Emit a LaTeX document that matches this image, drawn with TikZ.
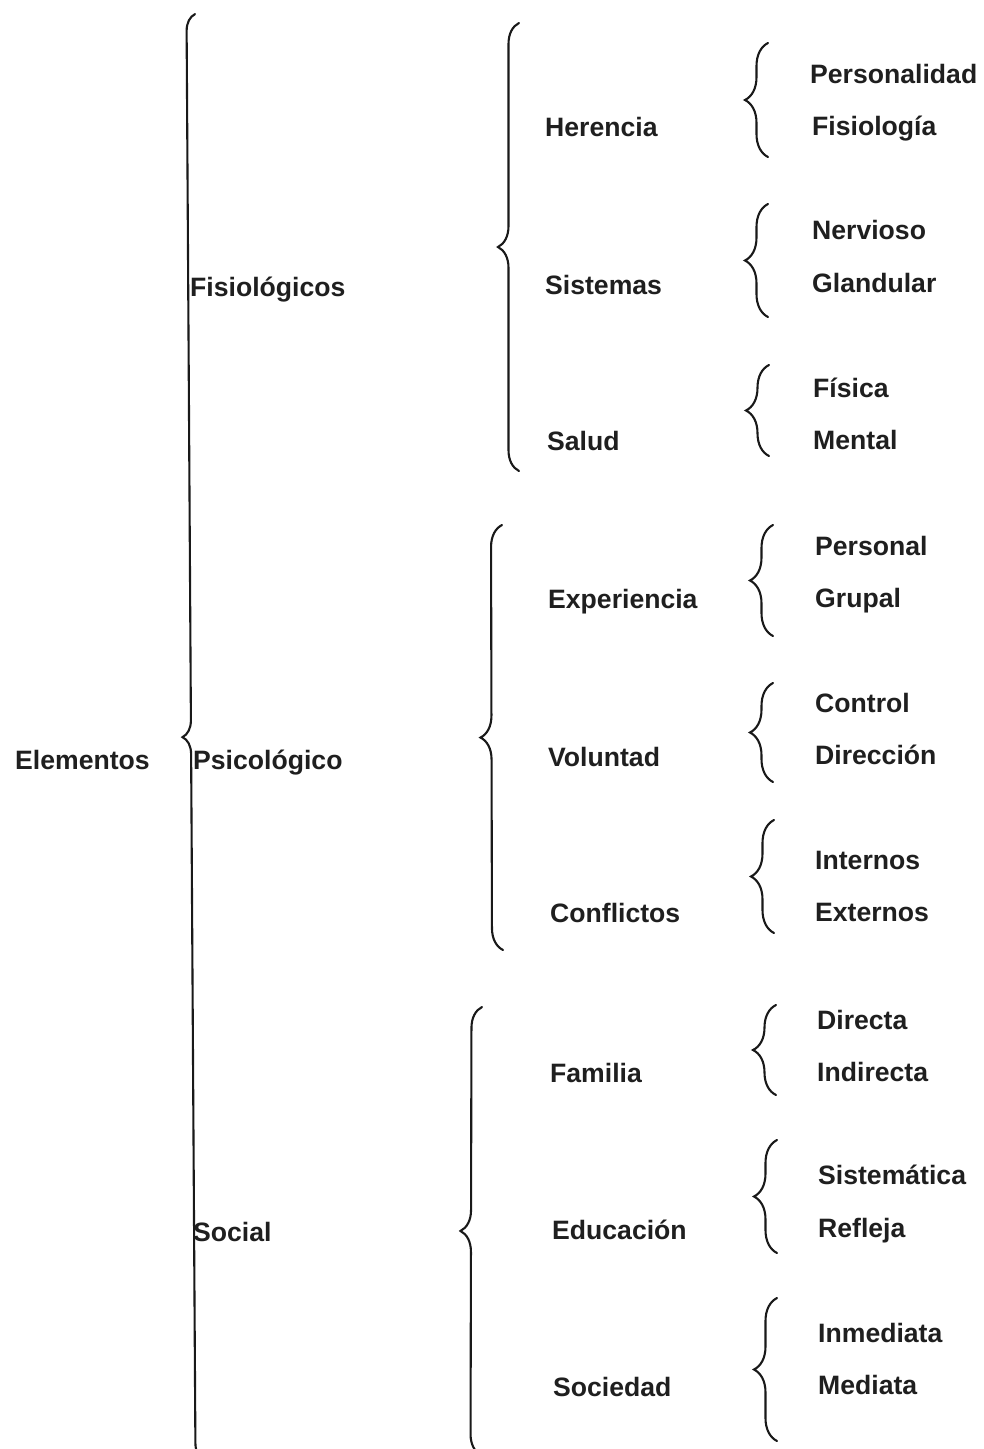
\documentclass[tikz,border=0pt]{standalone}
\usepackage{fontspec}
\setmainfont{Liberation Sans}
\usetikzlibrary{decorations.pathreplacing}
\tikzset{
  lbl/.style={anchor=base west, inner sep=0pt, font=\bfseries\fontsize{26.6}{30}\selectfont, text=black!88},
  brc/.style={draw=black!90, line width=2.1pt, line cap=round, decorate, decoration={brace, amplitude=#1}},
  brc/.default=22pt
}
\begin{document}
\begin{tikzpicture}[x=1pt, y=-1pt]
\useasboundingbox[fill=white] (0,0) rectangle (983,1449);
% level 0
\node[lbl] (elem) at (15,769.5) {Elementos};
% level 1
\node[lbl] (fis) at (190,296.5) {Fisiológicos};
\node[lbl] (psi) at (193,769.5) {Psicológico};
\node[lbl] (soc) at (193,1241.5) {Social};
% level 2
\node[lbl] (her) at (545,136.5) {Herencia};
\node[lbl] (sis) at (545,294.5) {Sistemas};
\node[lbl] (sal) at (547,450.5) {Salud};
\node[lbl] (exp) at (548,608.5) {Experiencia};
\node[lbl] (vol) at (548,766.5) {Voluntad};
\node[lbl] (con) at (550,922.5) {Conflictos};
\node[lbl] (fam) at (550,1082.5) {Familia};
\node[lbl] (edu) at (552,1239.5) {Educación};
\node[lbl] (sociedad) at (553,1396.5) {Sociedad};
% level 3
\node[lbl] (per) at (810,83.5) {Personalidad};
\node[lbl] (fisl) at (812,135.5) {Fisiología};
\node[lbl] (ner) at (812,239.5) {Nervioso};
\node[lbl] (gla) at (812,292.5) {Glandular};
\node[lbl] (fsc) at (813,397.5) {Física};
\node[lbl] (men) at (813,449.5) {Mental};
\node[lbl] (pers) at (815,555.5) {Personal};
\node[lbl] (gru) at (815,607.5) {Grupal};
\node[lbl] (ctl) at (815,712.5) {Control};
\node[lbl] (dir) at (815,764.5) {Dirección};
\node[lbl] (int) at (815,869.5) {Internos};
\node[lbl] (ext) at (815,921.5) {Externos};
\node[lbl] (dcta) at (817,1029.5) {Directa};
\node[lbl] (ind) at (817,1081.5) {Indirecta};
\node[lbl] (sism) at (818,1184.5) {Sistemática};
\node[lbl] (ref) at (818,1237.5) {Refleja};
\node[lbl] (inm) at (818,1342.5) {Inmediata};
\node[lbl] (med) at (818,1394.5) {Mediata};
% brace end coordinates
\coordinate (B0t) at (195,14);   \coordinate (B0b) at (204,1460);
\coordinate (B1t) at (519,23);   \coordinate (B1b) at (519,471);
\coordinate (B2t) at (502,525);  \coordinate (B2b) at (503,950);
\coordinate (B3t) at (482,1007); \coordinate (B3b) at (481,1455);
% level-0 and level-1 braces
\draw[brc=17pt] (B0b) -- (B0t);
\draw[brc=21pt] (B1b) -- (B1t);
\draw[brc=22pt] (B2b) -- (B2t);
\draw[brc=21pt] (B3b) -- (B3t);
% small braces
\coordinate (s1t) at (768,43);   \coordinate (s1b) at (768,157);
\coordinate (s2t) at (768,204);  \coordinate (s2b) at (768,317);
\coordinate (s3t) at (769,365);  \coordinate (s3b) at (769,456);
\coordinate (s4t) at (773,525);  \coordinate (s4b) at (773,636);
\coordinate (s5t) at (773,683);  \coordinate (s5b) at (773,782);
\coordinate (s6t) at (774,820);  \coordinate (s6b) at (774,933);
\coordinate (s7t) at (776,1005); \coordinate (s7b) at (776,1095);
\coordinate (s8t) at (777,1140); \coordinate (s8b) at (777,1253);
\coordinate (s9t) at (777,1298); \coordinate (s9b) at (777,1441);
\foreach \i in {1,...,9} {\draw[brc=23pt] (s\i b) -- (s\i t);}
\end{tikzpicture}
\end{document}
